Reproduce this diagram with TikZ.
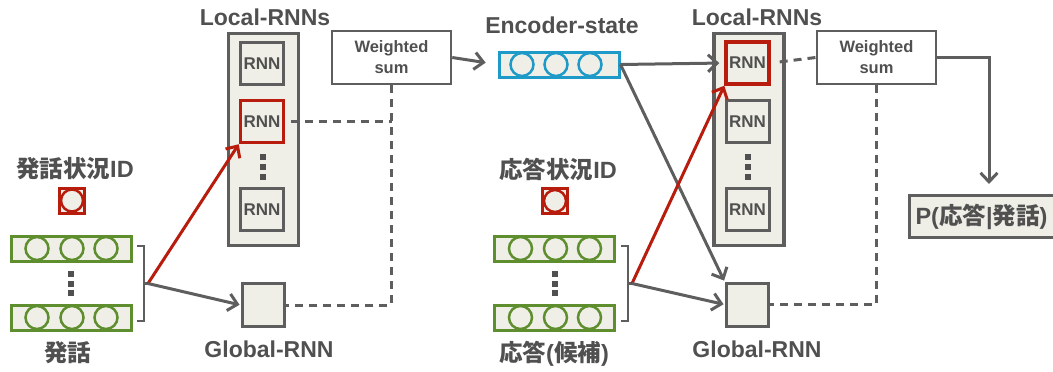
\documentclass[tikz,border=0pt]{standalone}
\usepackage{fontspec}
\setmainfont{Liberation Sans}
\newfontfamily\cjk{Noto Sans CJK JP}
\usetikzlibrary{arrows.meta,calc}
\definecolor{lc}{HTML}{5E5E5E}
\definecolor{bg}{HTML}{EFEFE7}
\definecolor{gr}{HTML}{5E8E2E}
\definecolor{rd}{HTML}{B81C0C}
\definecolor{bl}{HTML}{1E9AC8}
\definecolor{tc}{HTML}{505050}
\tikzset{
  cont/.style={draw=lc, fill=bg, line width=3.5pt, minimum width=70pt, minimum height=212pt, inner sep=0pt},
  rnn/.style={draw=lc, fill=bg, line width=3pt, minimum width=43pt, minimum height=42pt, inner sep=0pt,
    font=\bfseries\fontsize{17}{17}\selectfont, text=tc},
  rrnn/.style={rnn, draw=rd, line width=3.5pt},
  wsum/.style={draw=lc, fill=white, line width=2.5pt, minimum width=119pt, minimum height=53pt, inner sep=0pt,
    align=center, font=\bfseries\fontsize{16.5}{21}\selectfont, text=tc},
  greenrow/.style={draw=gr, fill=bg, line width=3pt, minimum width=120pt, minimum height=25pt, inner sep=0pt},
  bluerow/.style={greenrow, draw=bl},
  gbox/.style={draw=lc, fill=bg, line width=3pt, minimum width=42pt, minimum height=43pt, inner sep=0pt},
  idsq/.style={draw=rd, fill=bg, line width=3pt, minimum size=25pt, inner sep=0pt},
  ttl/.style={font=\bfseries\fontsize{23}{26}\selectfont, text=tc, inner sep=0pt},
  jttl/.style={font=\cjk\bfseries\fontsize{23.5}{26}\selectfont, text=tc, inner sep=0pt},
  arr/.style={draw=lc, line width=3pt, -{Straight Barb[length=9pt,width=17pt,line width=3pt]}},
  rarr/.style={arr, draw=rd},
  dsh/.style={draw=lc, line width=3pt, dash pattern=on 8pt off 6pt},
  brk/.style={draw=lc, line width=2.5pt},
  dotsq/.style={fill=tc}
}
\begin{document}
\begin{tikzpicture}[x=1pt,y=-1pt]
\useasboundingbox (0,0) rectangle (1053,372);
% ---------- left side ----------
\node[cont] (locL) at (263.5,139.5) {};
\node[ttl, anchor=base] (tLocL) at (265,25) {Local-RNNs};
\node[rnn] (rL1) at (262,63.5) {RNN};
\node[rrnn] (rL2) at (262,121.5) {RNN};
\node[rnn] (rL3) at (262,209.5) {RNN};
\foreach \yy in {157,167,177} \fill[dotsq] (260,\yy-3) rectangle (266,\yy+3);
\node[gbox] (gL) at (263,305) {};
\node[ttl, anchor=base] (tGL) at (269,357) {Global-RNN};
\node[wsum] (wsL) at (391.5,57.5) {Weighted\\sum};

\node[jttl] (tIdL) at (75,169) {発話状況\textrm{\bfseries ID}};
\node[idsq] (idL) at (72,200.5) {};
\draw[rd, line width=2.5pt] (idL) circle (11pt);
\node[greenrow] (uL1) at (71,248.5) {};
\node[greenrow] (uL2) at (71,317.5) {};
\foreach \r in {uL1,uL2} \foreach \dx in {-34,1,35} \draw[gr, line width=2.5pt] ($(\r)+(\dx,0)$) circle (11.5pt);
\foreach \yy in {274,283.5,293} \fill[dotsq] (68,\yy-3) rectangle (74,\yy+3);
\node[jttl] (tUL) at (68,353) {発話};
\draw[brk] (137,246) -- (144,246) -- (144,321) -- (137,321);
\coordinate (brL) at (148,283.5);
\draw[brk] (144,283.5) -- (brL);

\draw[rarr] (brL) -- (rL2.south west);
\draw[arr, shorten >=1pt] (brL) -- (gL.west);
\draw[dsh, shorten <=6pt] (rL2.east) -- (rL2.east -| wsL.south);
\draw[dsh] (wsL.south) |- (gL.east);

% ---------- middle ----------
\node[bluerow] (enc) at (559,64.5) {};
\foreach \dx in {-37,-3,31} \draw[bl, line width=2.5pt] ($(enc)+(\dx,0)$) circle (11.5pt);
\node[ttl, anchor=base] (tEnc) at (562,33) {Encoder-state};
\draw[arr, shorten >=12pt] (wsL.east) -- (enc.west);

\node[jttl] (tIdR) at (558,169) {応答状況\textrm{\bfseries ID}};
\node[idsq] (idR) at (555,201) {};
\draw[rd, line width=2.5pt] (idR) circle (11pt);
\node[greenrow] (uR1) at (554.5,248.5) {};
\node[greenrow] (uR2) at (554.5,317.5) {};
\foreach \r in {uR1,uR2} \foreach \dx in {-34,1,35} \draw[gr, line width=2.5pt] ($(\r)+(\dx,0)$) circle (11.5pt);
\foreach \yy in {274,283.5,293} \fill[dotsq] (552,\yy-3) rectangle (558,\yy+3);
\node[jttl] (tUR) at (554,354) {応答\textrm{\bfseries (}候補\textrm{\bfseries )}};
\draw[brk] (621,246) -- (628,246) -- (628,321) -- (621,321);
\coordinate (brR) at (632,283.5);
\draw[brk] (628,283.5) -- (brR);

% ---------- right side ----------
\node[cont] (locR) at (749,139.5) {};
\node[ttl, anchor=base] (tLocR) at (757,25) {Local-RNNs};
\node[rrnn] (rR1) at (747.5,63) {RNN};
\node[rnn] (rR2) at (747.5,121.5) {RNN};
\node[rnn] (rR3) at (747.5,209.5) {RNN};
\foreach \yy in {157,167,177} \fill[dotsq] (745,\yy-3) rectangle (751,\yy+3);
\node[gbox] (gR) at (747,304.5) {};
\node[ttl, anchor=base] (tGR) at (757,357) {Global-RNN};
\node[wsum] (wsR) at (876.5,57.5) {Weighted\\sum};

\draw[arr, shorten >=5pt] (enc.east) -- (rR1.west);
\draw[arr, shorten >=1pt] (enc.east) -- (gR.north west);
\draw[rarr] (brR) -- (rR1.south west);
\draw[arr, shorten >=1pt] (brR) -- (gR.west);
\draw[dsh, shorten <=9pt] (rR1.east) -- (wsR.west);
\draw[dsh] (wsR.south) |- (gR.east);

\node[draw=lc, fill=bg, line width=3pt, anchor=west, minimum height=42pt, inner xsep=6pt, inner ysep=0pt,
  font=\bfseries\fontsize{23.5}{26}\selectfont, text=tc] (P) at (908,216.5)
  {\makebox[146pt][l]{P({\cjk 応答}|{\cjk 発話})}};
\coordinate (pin) at (989,184);
\draw[arr] (wsR.east) -| (pin);
\end{tikzpicture}
\end{document}
